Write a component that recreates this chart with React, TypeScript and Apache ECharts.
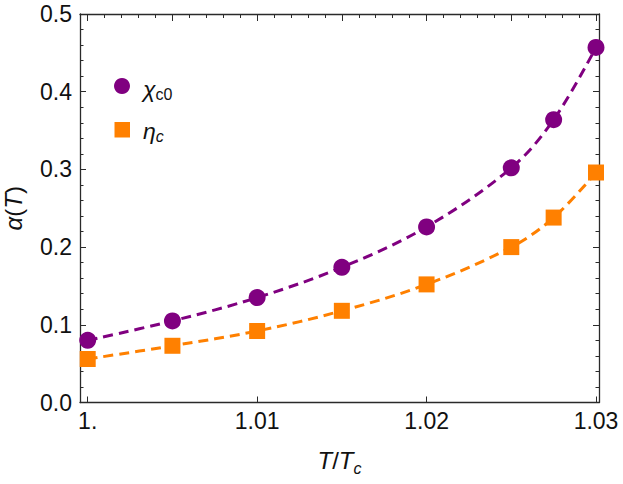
import React, { useEffect, useRef } from "react";
import * as echarts from "echarts";

// Data
const tValues = [1.0, 1.005, 1.01, 1.015, 1.02, 1.025, 1.0275, 1.03];
const chiC0 = [0.080, 0.105, 0.135, 0.174, 0.226, 0.302, 0.364, 0.457];
const etaC = [0.056, 0.073, 0.092, 0.118, 0.152, 0.200, 0.238, 0.296];

const xTickLabels = [1.0, 1.01, 1.02, 1.03];
const xTopMajor = [1.0, 1.005, 1.01, 1.015, 1.02, 1.025, 1.03];
const xTopMinor = [
  1.0, 1.001, 1.002, 1.003, 1.004, 1.005, 1.006, 1.007, 1.008, 1.009,
  1.01, 1.011, 1.012, 1.013, 1.014, 1.015, 1.016, 1.017, 1.018, 1.019,
  1.02, 1.021, 1.022, 1.023, 1.024, 1.025, 1.026, 1.027, 1.028, 1.029, 1.03,
];

const PURPLE = "#800080";
const ORANGE = "#ff8000";
const FRAME = "#2a2a2a";
const TEXT = "#111";
const FONT = "'Liberation Sans', Arial, Helvetica, sans-serif";

const X_MIN = 0.999545;
const X_MAX = 1.030177;

export default function App() {
  const ref = useRef<HTMLDivElement>(null);

  useEffect(() => {
    if (!ref.current) return;
    const chart = echarts.init(ref.current, undefined, { renderer: "svg" });

    const pair = (ys: number[]) => tValues.map((x, i) => [x, ys[i]]);

    const baseX = {
      type: "value" as const,
      min: X_MIN,
      max: X_MAX,
      splitLine: { show: false },
      axisLine: { show: true, onZero: false, lineStyle: { color: FRAME, width: 1.3 } },
    };

    const option: any = {
      animation: false,
      backgroundColor: "#ffffff",
      textStyle: { fontFamily: FONT },
      grid: {
        left: 80,
        right: 24,
        top: 14,
        bottom: 81.5,
        containLabel: false,
        outerBoundsMode: "none",
      },
      xAxis: [
        {
          ...baseX,
          position: "bottom",
          axisTick: {
            show: true,
            inside: true,
            length: 6,
            customValues: xTickLabels,
            lineStyle: { color: FRAME, width: 1 },
          },
          axisLabel: {
            show: true,
            customValues: xTickLabels,
            margin: 7,
            color: TEXT,
            fontSize: 23,
            fontFamily: FONT,
            formatter: (v: number) => (Math.abs(v - 1) < 1e-9 ? "1." : v.toFixed(2)),
          },
          name: "{i|T}{n|/}{i|T}{s|c}",
          nameLocation: "middle",
          nameGap: 42,
          nameTextStyle: {
            rich: {
              i: { fontSize: 24, fontStyle: "italic", fontFamily: FONT, color: TEXT, lineHeight: 32 },
              n: { fontSize: 24, fontFamily: FONT, color: TEXT, lineHeight: 32 },
              s: { fontSize: 16, fontStyle: "italic", fontFamily: FONT, color: TEXT, lineHeight: 16, verticalAlign: "bottom" },
            },
          },
        },
        {
          ...baseX,
          position: "top",
          axisTick: {
            show: true,
            inside: true,
            length: 4,
            customValues: xTopMinor,
            lineStyle: { color: FRAME, width: 1 },
          },
          axisLabel: { show: false },
        },
        {
          ...baseX,
          position: "top",
          axisLine: { show: false, onZero: false },
          axisTick: {
            show: true,
            inside: true,
            length: 7,
            customValues: xTopMajor,
            lineStyle: { color: FRAME, width: 1 },
          },
          axisLabel: { show: false },
        },
      ],
      yAxis: [
        {
          type: "value",
          position: "left",
          min: 0,
          max: 0.5,
          interval: 0.1,
          splitLine: { show: false },
          axisLine: { show: true, onZero: false, lineStyle: { color: FRAME, width: 1.3 } },
          axisTick: { show: true, inside: true, length: 6, lineStyle: { color: FRAME, width: 1 } },
          minorTick: { show: true, splitNumber: 5, length: 3.5, lineStyle: { color: FRAME, width: 1 } },
          minorSplitLine: { show: false },
          axisLabel: {
            margin: 8,
            color: TEXT,
            fontSize: 23,
            fontFamily: FONT,
            formatter: (v: number) => v.toFixed(1),
          },
          name: "{g|α}{n|(}{i|T}{n|)}",
          nameLocation: "middle",
          nameGap: 55,
          nameRotate: 90,
          nameTextStyle: {
            rich: {
              g: { fontSize: 24, fontStyle: "italic", fontFamily: FONT, color: TEXT },
              i: { fontSize: 24, fontStyle: "italic", fontFamily: FONT, color: TEXT },
              n: { fontSize: 24, fontFamily: FONT, color: TEXT },
            },
          },
        },
        {
          type: "value",
          position: "right",
          min: 0,
          max: 0.5,
          interval: 0.1,
          splitLine: { show: false },
          axisLine: { show: true, onZero: false, lineStyle: { color: FRAME, width: 1.3 } },
          axisTick: { show: true, inside: true, length: 6, lineStyle: { color: FRAME, width: 1 } },
          minorTick: { show: true, splitNumber: 5, length: 3.5, lineStyle: { color: FRAME, width: 1 } },
          minorSplitLine: { show: false },
          axisLabel: { show: false },
        },
      ],
      series: [
        {
          type: "line",
          data: pair(chiC0),
          xAxisIndex: 0,
          yAxisIndex: 0,
          smooth: 0.35,
          showSymbol: false,
          symbol: "none",
          silent: true,
          lineStyle: { color: PURPLE, width: 3, type: [10, 6] },
          z: 2,
        },
        {
          type: "line",
          data: pair(etaC),
          xAxisIndex: 0,
          yAxisIndex: 0,
          smooth: 0.35,
          showSymbol: false,
          symbol: "none",
          silent: true,
          lineStyle: { color: ORANGE, width: 3, type: [10, 6] },
          z: 2,
        },
        {
          name: "chi",
          type: "scatter",
          data: pair(chiC0),
          xAxisIndex: 0,
          yAxisIndex: 0,
          symbol: "circle",
          symbolSize: 17,
          itemStyle: { color: PURPLE, opacity: 1 },
          z: 3,
        },
        {
          name: "eta",
          type: "scatter",
          data: pair(etaC),
          xAxisIndex: 0,
          yAxisIndex: 0,
          symbol: "rect",
          symbolSize: 16,
          itemStyle: { color: ORANGE, opacity: 1 },
          z: 3,
        },
      ],
      graphic: [
        { type: "circle", shape: { cx: 122, cy: 86, r: 8 }, style: { fill: PURPLE }, z: 10 },
        { type: "rect", shape: { x: 114.5, y: 122, width: 15.5, height: 15.5 }, style: { fill: ORANGE }, z: 10 },
        {
          type: "text",
          x: 143,
          y: 89,
          z: 10,
          style: {
            text: "{i|χ}{s|c0}",
            verticalAlign: "middle",
            rich: {
              i: { fontSize: 23, fontStyle: "italic", fontFamily: FONT, fill: TEXT, lineHeight: 26 },
              s: { fontSize: 16, fontFamily: FONT, fill: TEXT, lineHeight: 18, verticalAlign: "bottom" },
            },
          },
        },
        {
          type: "text",
          x: 143,
          y: 131,
          z: 10,
          style: {
            text: "{i|η}{s|c}",
            verticalAlign: "middle",
            rich: {
              i: { fontSize: 23, fontStyle: "italic", fontFamily: FONT, fill: TEXT, lineHeight: 26 },
              s: { fontSize: 16, fontStyle: "italic", fontFamily: FONT, fill: TEXT, lineHeight: 14, verticalAlign: "bottom" },
            },
          },
        },
      ],
    };

    chart.setOption(option);
    return () => chart.dispose();
  }, []);

  return (
    <div
      ref={ref}
      style={{ position: "absolute", left: 0, top: 0, width: 623, height: 484, background: "#fff" }}
    />
  );
}
